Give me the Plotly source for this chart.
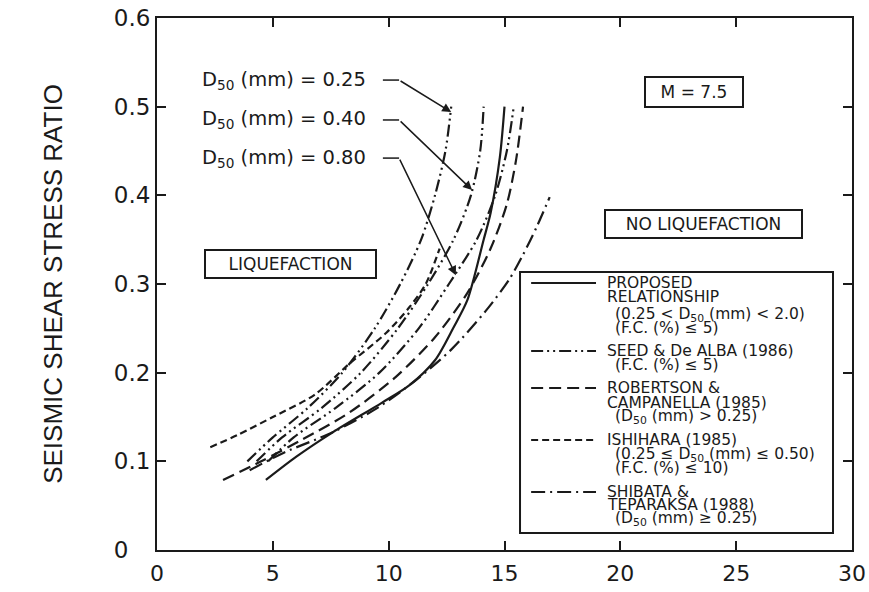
import plotly.graph_objects as go

# ---- curve data: corrected cone tip resistance vs. seismic shear stress ratio ----
proposed_x = [4.7, 6.0, 7.6, 9.7, 10.9, 12.0, 12.8, 13.4, 14.1, 14.4, 14.8, 15.0]
proposed_y = [0.079, 0.105, 0.133, 0.166, 0.186, 0.214, 0.251, 0.282, 0.350, 0.380, 0.443, 0.500]

seed025_x = [3.9, 5.0, 6.5, 8.0, 9.4, 10.5, 11.4, 12.0, 12.45, 12.7]
seed025_y = [0.10, 0.127, 0.16, 0.20, 0.25, 0.30, 0.35, 0.40, 0.45, 0.50]

seed040_x = [4.3, 5.4, 7.1, 8.8, 10.4, 11.7, 12.8, 13.55, 13.95, 14.1]
seed040_y = [0.10, 0.127, 0.16, 0.20, 0.25, 0.30, 0.35, 0.40, 0.45, 0.50]

seed080_x = [4.8, 5.9, 7.7, 9.6, 11.3, 12.6, 13.8, 14.6, 15.1, 15.4]
seed080_y = [0.10, 0.127, 0.16, 0.20, 0.25, 0.30, 0.35, 0.40, 0.45, 0.50]

robertson_x = [2.85, 4.5, 6.3, 8.3, 10.3, 12.0, 13.4, 14.4, 15.1, 15.5, 15.8]
robertson_y = [0.079, 0.10, 0.125, 0.155, 0.195, 0.24, 0.29, 0.34, 0.39, 0.44, 0.50]

ishihara_x = [2.3, 3.5, 5.0, 6.8, 8.3, 9.9, 10.9, 11.6, 12.2]
ishihara_y = [0.116, 0.13, 0.15, 0.175, 0.21, 0.245, 0.274, 0.30, 0.34]

shibata_x = [4.0, 5.5, 7.6, 9.5, 11.1, 12.7, 14.2, 15.2, 15.8, 16.4, 16.95]
shibata_y = [0.09, 0.11, 0.133, 0.16, 0.19, 0.226, 0.27, 0.305, 0.333, 0.365, 0.398]

x_ticks = [0, 5, 10, 15, 20, 25, 30]
x_ticktext = ["0", "5", "10", "15", "20", "25", "30"]
y_ticks = [0, 0.1, 0.2, 0.3, 0.4, 0.5, 0.6]
y_ticktext = ["0\u00a0\u00a0\u00a0", "0.1", "0.2", "0.3", "0.4", "0.5", "0.6"]

FONT = "DejaVu Sans, Verdana, sans-serif"
TITLE_FONT = "Liberation Sans, Arial, sans-serif"
INK = "#1a1a1a"

# dash patterns
DASH_DDOT = "12px,4px,2px,4px,2px,4px"
DASH_LONG = "12px,6px"
DASH_SHORT = "7px,4px"
DASH_DOT = "14px,5px,2px,5px"

fig = go.Figure()

def curve(x, y, dash, name):
    fig.add_trace(go.Scatter(
        x=x, y=y, mode="lines", name=name, showlegend=False,
        line=dict(color=INK, width=2.2, dash=dash, shape="spline", smoothing=0.8),
        hoverinfo="skip"))

curve(proposed_x, proposed_y, "solid", "Proposed relationship")
curve(seed025_x, seed025_y, DASH_DDOT, "Seed & De Alba D50=0.25")
curve(seed040_x, seed040_y, DASH_DDOT, "Seed & De Alba D50=0.40")
curve(seed080_x, seed080_y, DASH_DDOT, "Seed & De Alba D50=0.80")
curve(robertson_x, robertson_y, DASH_LONG, "Robertson & Campanella")
curve(ishihara_x, ishihara_y, DASH_SHORT, "Ishihara")
curve(shibata_x, shibata_y, DASH_DOT, "Shibata & Teparaksa")

annotations = []
shapes = []

def text(x, y, s, size=14, anchor="left"):
    annotations.append(dict(x=x, y=y, xref="x", yref="y", text=s, showarrow=False,
                            xanchor=anchor, yanchor="middle",
                            font=dict(family=FONT, size=size, color=INK)))

# ---- legend box ----
shapes.append(dict(type="rect", xref="x", yref="y", x0=15.67, x1=29.18, y0=0.0192, y1=0.3135,
                   line=dict(color=INK, width=2), fillcolor="white", layer="above"))

# (dash, [(text, indent, y), ...]) — the line sample sits on the first row
legend_rows = [
    ("solid", [("PROPOSED", 0, 0.3011), ("RELATIONSHIP", 0, 0.2853),
               ("(0.25 &lt; D<sub>50</sub> (mm) &lt; 2.0)", 1, 0.2650),
               ("(F.C. (%) ≤ 5)", 1, 0.2504)]),
    (DASH_DDOT, [("SEED &amp; De ALBA (1986)", 0, 0.2244), ("(F.C. (%) ≤ 5)", 1, 0.2086)]),
    (DASH_LONG, [("ROBERTSON &amp;", 0, 0.1827), ("CAMPANELLA (1985)", 0, 0.1658),
                 ("(D<sub>50</sub> (mm) &gt; 0.25)", 1, 0.1500)]),
    (DASH_SHORT, [("ISHIHARA (1985)", 0, 0.1240),
                  ("(0.25 ≤ D<sub>50</sub> (mm) ≤ 0.50)", 1, 0.1071),
                  ("(F.C. (%) ≤ 10)", 1, 0.0925)]),
    (DASH_DOT, [("SHIBATA &amp;", 0, 0.0654), ("TEPARAKSA (1988)", 0, 0.0507),
                ("(D<sub>50</sub> (mm) ≥ 0.25)", 1, 0.0350)]),
]
for dash, lines in legend_rows:
    y0 = lines[0][2]
    shapes.append(dict(type="line", xref="x", yref="y", x0=16.15, x1=18.95, y0=y0, y1=y0,
                       line=dict(color=INK, width=2, dash=dash), layer="above"))
    for s, indent, yy in lines:
        text(19.35 + 0.35 * indent, yy, s, size=15.5)

# ---- region labels in boxes ----
def boxed(x, y, s, w, h):
    annotations.append(dict(x=x, y=y, xref="x", yref="y", text=s, showarrow=False,
                            width=w, height=h, bordercolor=INK, borderwidth=2,
                            bgcolor="white",
                            font=dict(family=FONT, size=17, color=INK)))

boxed(23.18, 0.5165, "M = 7.5", 94, 26)
boxed(23.57, 0.3677, "NO LIQUEFACTION", 193, 24)
boxed(5.78, 0.3225, "LIQUEFACTION", 167, 24)

# ---- D50 callouts with leader arrows ----
callouts = [
    ("D<sub>50</sub> (mm) = 0.25", 0.530, 12.7, 0.494),
    ("D<sub>50</sub> (mm) = 0.40", 0.485, 13.6, 0.406),
    ("D<sub>50</sub> (mm) = 0.80", 0.442, 12.9, 0.310),
]
for label, ly, tx, ty in callouts:
    text(1.86, ly, label, size=19.5)
    shapes.append(dict(type="line", xref="x", yref="y", x0=9.75, x1=10.45, y0=ly, y1=ly,
                       line=dict(color=INK, width=1.5)))
    annotations.append(dict(x=tx, y=ty, xref="x", yref="y", ax=10.45, ay=ly,
                            axref="x", ayref="y", text="", showarrow=True,
                            arrowhead=2, arrowsize=1.2, arrowwidth=1.5, arrowcolor=INK))

fig.update_layout(
    width=869, height=592,
    margin=dict(l=157, r=17, t=18, b=42),
    paper_bgcolor="white", plot_bgcolor="white",
    font=dict(family=FONT, color=INK),
    annotations=annotations, shapes=shapes,
    xaxis=dict(range=[0, 30], tickvals=x_ticks, ticktext=x_ticktext,
               showline=True, mirror="ticks", linecolor=INK, linewidth=2,
               ticks="inside", ticklen=9, tickwidth=1.5, tickcolor=INK,
               showgrid=False, zeroline=False, ticklabelstandoff=3,
               automargin=False,
               tickfont=dict(family=FONT, size=22, color=INK)),
    yaxis=dict(range=[0, 0.6], tickvals=y_ticks, ticktext=y_ticktext,
               showline=True, mirror="ticks", linecolor=INK, linewidth=2,
               ticks="inside", ticklen=9, tickwidth=1.5, tickcolor=INK,
               showgrid=False, zeroline=False, automargin=False,
               tickfont=dict(family=FONT, size=23, color=INK),
               title=dict(text="SEISMIC SHEAR STRESS RATIO", standoff=44,
                          font=dict(family=TITLE_FONT, size=26, color=INK))),
)

fig.write_html("out.html")
